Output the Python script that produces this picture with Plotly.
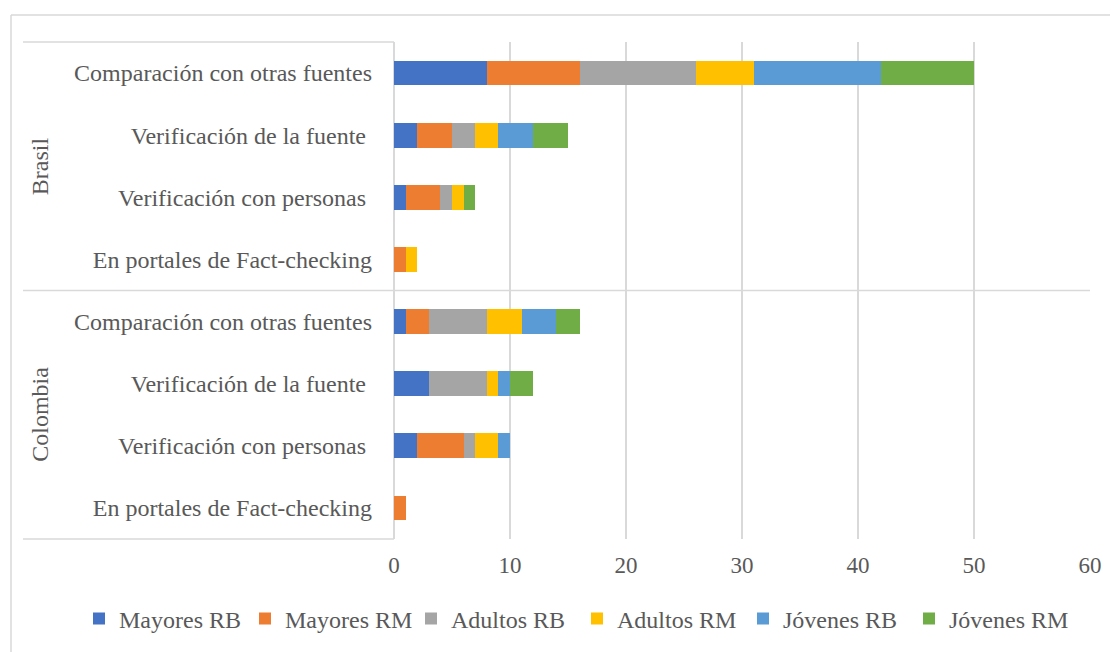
import plotly.graph_objects as go

countries = ["Brasil", "Colombia"]
methods = [
    "Comparación con otras fuentes",
    "Verificación de la fuente\u00a0",
    "Verificación con personas\u00a0",
    "En portales de Fact-checking",
]
# rows top-to-bottom: Brasil (4 methods), then Colombia (4 methods)
series_names = ["Mayores RB", "Mayores RM", "Adultos RB", "Adultos RM", "Jóvenes RB", "Jóvenes RM"]
mayores_rb = [8, 2, 1, 0, 1, 3, 2, 0]
mayores_rm = [8, 3, 3, 1, 2, 0, 4, 1]
adultos_rb = [10, 2, 1, 0, 5, 5, 1, 0]
adultos_rm = [5, 2, 1, 1, 3, 1, 2, 0]
jovenes_rb = [11, 3, 0, 0, 3, 1, 1, 0]
jovenes_rm = [8, 3, 1, 0, 2, 2, 0, 0]
colors = ["#4472C4", "#ED7D31", "#A5A5A5", "#FFC000", "#5B9BD5", "#70AD47"]
x_ticks = [0, 10, 20, 30, 40, 50, 60]

row_labels = methods * len(countries)
rows = list(range(len(row_labels)))
values = [mayores_rb, mayores_rm, adultos_rb, adultos_rm, jovenes_rb, jovenes_rm]

FONT = "Liberation Serif, Times New Roman, serif"
TXT = "#595959"
GRID = "#d9d9d9"

fig = go.Figure()
for name, vals, col in zip(series_names, values, colors):
    fig.add_trace(go.Bar(
        y=rows, x=vals, name=name, orientation="h",
        marker=dict(color=col, line=dict(width=0)),
    ))

# page body has an 8px default margin; compensate so the figure lands where the reference is
OFF = 8
W, H = 1118 - OFF, 652 - OFF
L, R, T, B = 394 - OFF, 28, 42 - OFF, 112
pw = W - L - R
ph = H - T - B

def px_x(p):
    return (p - OFF - L) / pw

def px_y(p):
    return (H - B - (p - OFF)) / ph

fig.update_layout(
    width=W, height=H,
    margin=dict(l=L, r=R, t=T, b=B),
    barmode="stack",
    bargap=0.6,
    plot_bgcolor="white",
    paper_bgcolor="white",
    font=dict(family=FONT, size=24, color=TXT),
    showlegend=True,
    legend=dict(
        orientation="h",
        x=px_x(79), xanchor="left",
        y=px_y(619), yanchor="middle",
        font=dict(family=FONT, size=24, color=TXT),
        itemwidth=30,
        entrywidth=121,
        traceorder="normal",
        bgcolor="rgba(0,0,0,0)",
    ),
    xaxis=dict(
        range=[0, 60],
        tickvals=x_ticks,
        showgrid=True, gridcolor=GRID, gridwidth=1.5,
        zeroline=True, zerolinecolor=GRID, zerolinewidth=1.5,
        showline=False,
        ticks="",
        ticklabelstandoff=10,
        tickfont=dict(family=FONT, size=23, color=TXT),
    ),
    yaxis=dict(
        range=[len(rows) - 0.5, -0.5],
        tickvals=rows,
        ticktext=row_labels,
        showgrid=False, zeroline=False, showline=False,
        ticks="",
        ticklabelstandoff=21,
        tickfont=dict(family=FONT, size=24, color=TXT),
    ),
)

# category box lines (Excel multi-level axis)
line_style = dict(color=GRID, width=1.5)
fig.add_shape(type="line", xref="paper", yref="paper", x0=px_x(23), x1=0, y0=1, y1=1, line=line_style)
fig.add_shape(type="line", xref="paper", yref="paper", x0=px_x(23), x1=0, y0=0, y1=0, line=line_style)
fig.add_shape(type="line", xref="paper", yref="y", x0=px_x(23), x1=1, y0=len(methods) - 0.5, y1=len(methods) - 0.5, line=line_style)
# outer chart frame
fig.add_shape(type="line", xref="paper", yref="paper", x0=px_x(11), x1=px_x(11), y0=px_y(15), y1=px_y(660), line=line_style)
fig.add_shape(type="line", xref="paper", yref="paper", x0=px_x(11), x1=px_x(1130), y0=px_y(15), y1=px_y(15), line=line_style)

# group labels
for i, c in enumerate(countries):
    center = i * len(methods) + (len(methods) - 1) / 2
    fig.add_annotation(
        text=c, xref="paper", yref="y", x=px_x(40), y=center,
        xanchor="center", yanchor="middle",
        textangle=-90, showarrow=False,
        font=dict(family=FONT, size=24, color=TXT),
    )

fig.write_html("out.html")
